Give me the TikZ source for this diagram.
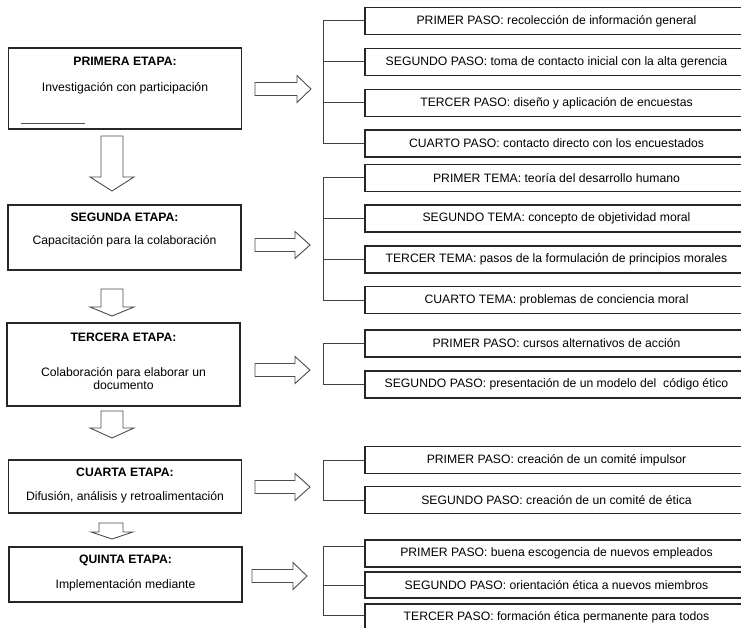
\documentclass[tikz,border=0pt]{standalone}
\usepackage{fontspec}
\setmainfont{Liberation Sans}
\begin{document}
\begin{tikzpicture}[x=1pt,y=-1pt,
  every node/.style={font=\fontsize{12.2}{14}\selectfont, inner sep=0pt},
  stage/.style={draw=black!85, line width=1.1pt, minimum width=233pt, anchor=center},
  stagetitle/.style={font=\fontsize{12.2}{14}\selectfont\bfseries},
  stepbox/.style={draw=black!85, line width=1.1pt, minimum width=383pt, minimum height=27pt, anchor=center},
  trunk/.style={draw=black!75, line width=1pt},
  blockarrow/.style={draw=black!70, line width=0.9pt, fill=white, line join=miter}]
\clip (0,0) rectangle (741,628);
\fill[white] (0,0) rectangle (741,628);

% ---- stages (left column) ----
\node[stage, minimum height=81pt] (b1) at (125,88.5) {};
\node[stagetitle] (b1t) at (125,61.5) {PRIMERA ETAPA:};
\node (b1x) at (125,88) {Investigación con participación};
\draw[black!70, line width=0.8pt] (21,123) -- (85,123);

\node[stage, minimum height=65pt] (b2) at (124.5,237.5) {};
\node[stagetitle] (b2t) at (124.5,217.5) {SEGUNDA ETAPA:};
\node (b2x) at (124.5,241) {Capacitación para la colaboración};

\node[stage, minimum height=83pt] (b3) at (123.5,364.5) {};
\node[stagetitle] (b3t) at (123.5,337) {TERCERA ETAPA:};
\node[align=center, font=\fontsize{12.2}{13}\selectfont] (b3x) at (123.5,379) {Colaboración para elaborar un\\documento};

\node[stage, minimum height=53pt] (b4) at (125,486.5) {};
\node[stagetitle] (b4t) at (125,472.5) {CUARTA ETAPA:};
\node (b4x) at (125,497) {Difusión, análisis y retroalimentación};

\node[stage, minimum height=55pt] (b5) at (125.5,574.5) {};
\node[stagetitle] (b5t) at (125.5,560.5) {QUINTA ETAPA:};
\node (b5x) at (125.5,585.5) {Implementación mediante};

% ---- downward block arrows between stages ----
\draw[blockarrow] (101,136) -- (123,136) -- (123,177) -- (134,177) -- (112,191) -- (90,177) -- (101,177) -- cycle;
\draw[blockarrow] (101,289) -- (123,289) -- (123,307) -- (134,307) -- (112,316) -- (90,307) -- (101,307) -- cycle;
\draw[blockarrow] (101,411) -- (123,411) -- (123,428) -- (134,428) -- (112,438) -- (90,428) -- (101,428) -- cycle;
\draw[blockarrow] (99,523) -- (123,523) -- (123,532) -- (133,532) -- (112,539) -- (91,532) -- (99,532) -- cycle;

% ---- rightward block arrows ----
\draw[blockarrow] (255,82.5) -- (297,82.5) -- (297,75.5) -- (311,89) -- (297,102.5) -- (297,95.5) -- (255,95.5) -- cycle;
\draw[blockarrow] (255,238.5) -- (295,238.5) -- (295,231.5) -- (310,245) -- (295,258.5) -- (295,251.5) -- (255,251.5) -- cycle;
\draw[blockarrow] (255,363.5) -- (295,363.5) -- (295,356.5) -- (310,370) -- (295,383.5) -- (295,376.5) -- (255,376.5) -- cycle;
\draw[blockarrow] (255,480.5) -- (295,480.5) -- (295,473.5) -- (310,487) -- (295,500.5) -- (295,493.5) -- (255,493.5) -- cycle;
\draw[blockarrow] (252,569.5) -- (293,569.5) -- (293,562.5) -- (307,576) -- (293,589.5) -- (293,582.5) -- (252,582.5) -- cycle;

% ---- step boxes (right column) ----
\node[stepbox] (r11) at (556.5,21)  {PRIMER PASO: recolección de información general};
\node[stepbox] (r12) at (556.5,62)  {SEGUNDO PASO: toma de contacto inicial con la alta gerencia};
\node[stepbox] (r13) at (556.5,103) {TERCER PASO: diseño y aplicación de encuestas};
\node[stepbox] (r14) at (556.5,143.5) {CUARTO PASO: contacto directo con los encuestados};

\node[stepbox] (r21) at (556.5,178) {PRIMER TEMA: teoría del desarrollo humano};
\node[stepbox] (r22) at (556.5,218.5) {SEGUNDO TEMA: concepto de objetividad moral};
\node[stepbox] (r23) at (556.5,259.5) {TERCER TEMA: pasos de la formulación de principios morales};
\node[stepbox] (r24) at (556.5,300) {CUARTO TEMA: problemas de conciencia moral};

\node[stepbox] (r31) at (556.5,343.5) {PRIMER PASO: cursos alternativos de acción};
\node[stepbox] (r32) at (556.5,384.5) {SEGUNDO PASO: presentación de un modelo del \ código ético};

\node[stepbox] (r41) at (556.5,460) {PRIMER PASO: creación de un comité impulsor};
\node[stepbox] (r42) at (556.5,500) {SEGUNDO PASO: creación de un comité de ética};

\node[stepbox] (r51) at (556.5,553.5) {PRIMER PASO: buena escogencia de nuevos empleados};
\node[stepbox, minimum height=26pt] (r52) at (556.5,585) {SEGUNDO PASO: orientación ética a nuevos miembros};
\node[stepbox] (r53) at (556.5,617.5) {TERCER PASO: formación ética permanente para todos};

% ---- bracket connectors ----
\coordinate (t) at (323,0);
\draw[trunk] (r11.west) -- (r11.west -| t) -- (r14.west -| t) -- (r14.west);
\draw[trunk] (r12.west) -- (r12.west -| t);
\draw[trunk] (r13.west) -- (r13.west -| t);

\draw[trunk] (r21.west) -- (r21.west -| t) -- (r24.west -| t) -- (r24.west);
\draw[trunk] (r22.west) -- (r22.west -| t);
\draw[trunk] (r23.west) -- (r23.west -| t);

\draw[trunk] (r31.west) -- (r31.west -| t) -- (r32.west -| t) -- (r32.west);

\draw[trunk] (r41.west) -- (r41.west -| t) -- (r42.west -| t) -- (r42.west);

\coordinate (r51c) at ([yshift=7.5pt]r51.west);
\coordinate (r53c) at ([yshift=2.5pt]r53.west);
\draw[trunk] (r51c) -- (r51c -| t) -- (r53c -| t) -- (r53c);
\draw[trunk] (r52.west) -- (r52.west -| t);
\end{tikzpicture}
\end{document}
